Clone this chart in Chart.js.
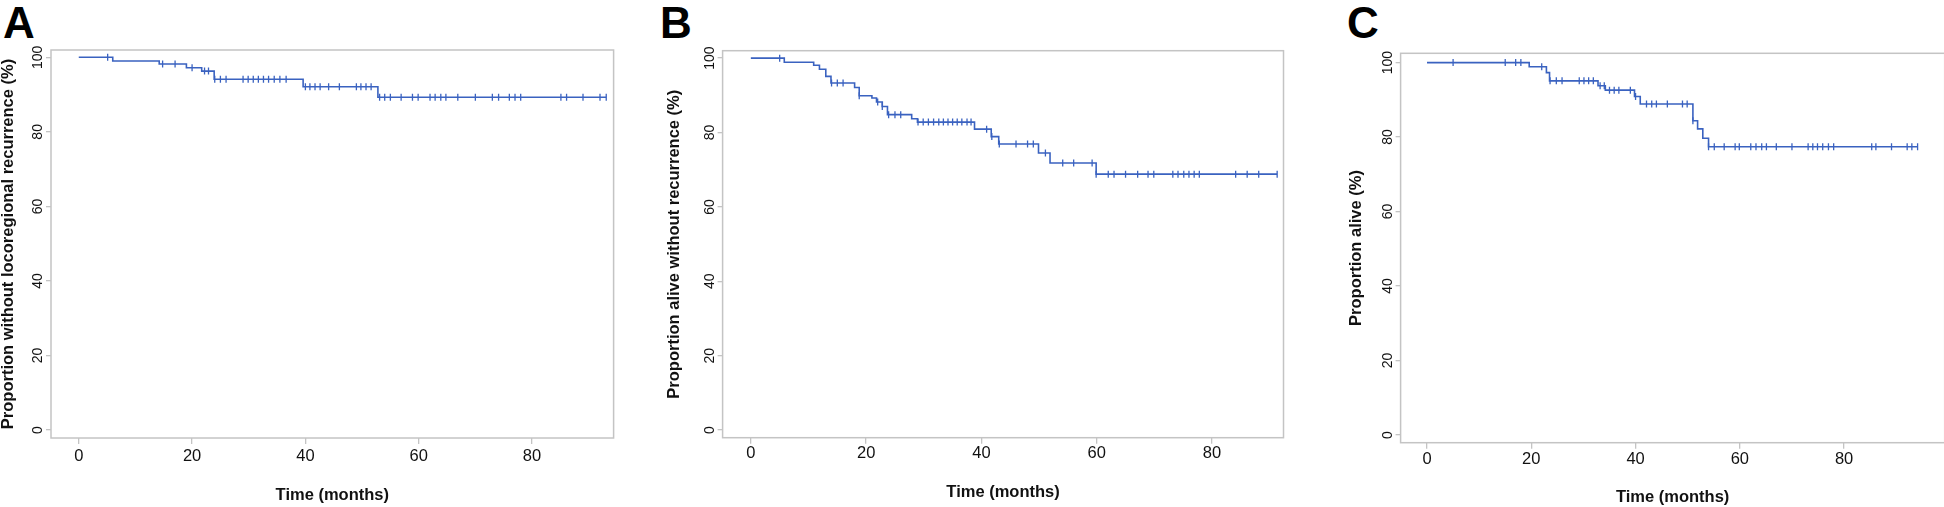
<!DOCTYPE html>
<html>
<head>
<meta charset="utf-8">
<script src="https://cdn.jsdelivr.net/npm/chart.js@4"></script>
<style>
  body { margin: 0; background: #fff; overflow: hidden; width: 1944px; height: 507px; position: relative; }
  .box { position: absolute; top: 0; height: 507px; }
  .tag { position: absolute; top: 1px; font: bold 44px "Liberation Sans", Arial, sans-serif; line-height: 44px; color: #000; }
</style>
</head>
<body>
<div class="tag" style="left:3px">A</div>
<div class="tag" style="left:660px">B</div>
<div class="tag" style="left:1347px">C</div>
<div class="box" style="left:0px;width:625px"><canvas id="graphA"></canvas></div>
<div class="box" style="left:640px;width:660px"><canvas id="graphB"></canvas></div>
<div class="box" style="left:1300px;width:650px"><canvas id="graphC"></canvas></div>
<script>
// tick labels
const xTicks = [0, 20, 40, 60, 80];
const yTicks = [0, 20, 40, 60, 80, 100];

// A - locoregional recurrence
const timesA = [0, 6.0, 14.2, 19.0, 21.7, 23.9, 39.6, 52.8];
const survA = [100, 99.0, 98.2, 97.2, 96.3, 94.1, 92.1, 89.3];
const censA = [5.1, 14.8, 17.0, 20.0, 22.2, 22.9, 24.0, 25.0, 26.0, 29.0, 29.9, 30.8, 31.7, 32.6, 33.5, 34.5, 35.5, 36.6,
  40.0, 40.8, 41.7, 42.6, 44.1, 46.0, 49.0, 49.8, 50.7, 51.6, 53.1, 54.0, 55.0, 56.9, 58.9, 59.9, 62.0, 62.9, 63.9, 64.8,
  66.9, 70.0, 73.0, 74.1, 76.0, 77.0, 78.0, 85.1, 86.1, 89.0, 92.0, 93.1];

// B - alive without recurrence
const timesB = [0, 5.8, 10.9, 11.9, 13.0, 13.9, 18.0, 18.8, 21.0, 21.8, 22.8, 23.7, 27.9, 28.9, 38.8, 41.7, 43.0, 49.9, 51.9, 59.9];
const survB = [100, 98.9, 98.1, 97.0, 95.1, 93.3, 92.1, 89.9, 89.3, 88.2, 87.0, 84.8, 83.7, 82.8, 80.9, 78.9, 76.9, 74.5, 71.8, 68.8];
const censB = [5.0, 14.0, 15.0, 16.0, 18.8, 22.0, 22.8, 23.9, 25.0, 26.0, 29.0, 29.9, 30.8, 31.7, 32.6, 33.4, 34.2, 35.0, 35.8,
  36.6, 37.5, 38.2, 40.9, 41.8, 43.1, 46.0, 48.0, 49.0, 51.1, 54.1, 56.0, 59.2, 59.9, 62.0, 63.0, 65.0, 67.1, 68.9, 69.9,
  73.2, 74.1, 75.1, 76.0, 76.9, 77.8, 84.1, 86.1, 88.1, 91.3];

// C - alive
const timesC = [0, 19.6, 22.9, 23.5, 32.8, 34.2, 39.8, 40.9, 51.0, 51.9, 52.9, 54.0];
const survC = [100, 98.9, 97.3, 95.1, 93.8, 92.6, 90.9, 88.9, 84.4, 82.2, 79.7, 77.4];
const censC = [5.0, 15.0, 17.0, 18.0, 22.0, 23.6, 24.8, 25.9, 29.2, 30.1, 31.0, 31.9, 33.2, 34.0, 35.0, 35.9, 36.8, 39.0, 40.0,
  42.1, 43.1, 44.0, 46.1, 49.0, 49.9, 51.0, 54.0, 55.1, 57.0, 59.1, 59.9, 62.1, 63.1, 64.2, 65.1, 67.0, 70.0, 73.1, 74.0,
  74.9, 75.9, 77.0, 78.0, 85.3, 86.1, 89.1, 92.1, 93.0, 94.1];

const blue = '#3a62c0';
const frameGray = '#c4c4c4';
const fam = '"Liberation Sans", Arial, Helvetica, sans-serif';

// KM level at time t
function levelAt(times, surv, t) {
  let s = surv[0];
  for (let i = 0; i < times.length; i++) { if (t >= times[i]) s = surv[i]; }
  return s;
}

const framePlugin = {
  id: 'frame',
  afterDraw(chart, args, opts) {
    const ctx = chart.ctx, a = chart.chartArea, y = chart.scales.y;
    ctx.save();
    ctx.strokeStyle = frameGray;
    ctx.lineWidth = 1.5;
    ctx.strokeRect(a.left, a.top, a.right - a.left, a.bottom - a.top);
    ctx.fillStyle = '#111';
    ctx.font = '14px ' + fam;
    ctx.textAlign = 'center';
    ctx.textBaseline = 'middle';
    yTicks.forEach(v => {
      ctx.save();
      ctx.translate(a.left - opts.gap, y.getPixelForValue(v));
      ctx.rotate(-Math.PI / 2);
      ctx.fillText(String(v), 0, 0);
      ctx.restore();
    });
    ctx.restore();
  }
};

function makePanel(id, times, surv, cens, o) {
  let curve = times.map((t, i) => ({x: t, y: surv[i]}));
  curve.push({x: cens[cens.length - 1], y: surv[surv.length - 1]});
  let marks = cens.map(t => ({x: t, y: levelAt(times, surv, t)}));

  new Chart(document.getElementById(id), {
    type: 'scatter',
    data: {
      datasets: [{
        data: curve,
        showLine: true,
        stepped: true,
        borderColor: blue,
        borderWidth: 1.6,
        pointRadius: 0
      }, {
        data: marks,
        showLine: false,
        pointStyle: 'line',
        rotation: 90,
        pointRadius: 3.5,
        borderColor: blue,
        borderWidth: 1.3
      }]
    },
    options: {
      responsive: true,
      maintainAspectRatio: false,
      devicePixelRatio: 1,
      animation: false,
      layout: { padding: { top: o.padTop, right: o.padRight, left: 0, bottom: 0 } },
      plugins: { legend: { display: false }, tooltip: { enabled: false }, frame: { gap: o.gap } },
      scales: {
        x: {
          min: o.xMin, max: o.xMax,
          afterBuildTicks: s => { s.ticks = xTicks.map(v => ({value: v})); },
          afterFit: s => { s.height = o.xHeight; },
          grid: { drawOnChartArea: false, drawTicks: true, tickLength: 6, color: frameGray, lineWidth: 1.3 },
          border: { display: false },
          ticks: { color: '#111', padding: o.xTickPad, font: { family: fam, size: 16.5, lineHeight: 1 } },
          title: { display: true, text: 'Time (months)', color: '#111', padding: { top: 0, bottom: o.xTitlePad },
            font: { family: fam, size: 16.5, weight: 'bold', lineHeight: 1 } }
        },
        y: {
          min: o.yMin, max: o.yMax,
          afterBuildTicks: s => { s.ticks = yTicks.map(v => ({value: v})); },
          afterFit: s => { s.width = o.yWidth; },
          grid: { drawOnChartArea: false, drawTicks: true, tickLength: 5, color: frameGray, lineWidth: 1.3 },
          border: { display: false },
          ticks: { display: false },
          title: { display: true, text: o.yTitle, color: '#111', padding: { top: o.yTitlePad, bottom: 0 },
            font: { family: fam, size: 16.5, weight: 'bold', lineHeight: 1 } }
        }
      }
    },
    plugins: [framePlugin]
  });
}

makePanel('graphA', timesA, survA, censA, {
  yTitle: 'Proportion without locoregional recurrence (%)',
  xMin: -4.9, xMax: 94.4, yMin: -2.15, yMax: 101.96,
  yWidth: 51, padTop: 50, padRight: 11.4, xHeight: 69,
  yTitlePad: 0, xTitlePad: 3.75, xTickPad: 4.25, gap: 13
});
makePanel('graphB', timesB, survB, censB, {
  yTitle: 'Proportion alive without recurrence (%)',
  xMin: -4.9, xMax: 92.4, yMin: -2.07, yMax: 102.0,
  yWidth: 82.6, padTop: 50.7, padRight: 16.5, xHeight: 69.3,
  yTitlePad: 25.75, xTitlePad: 6, xTickPad: 1.35, gap: 12
});
makePanel('graphC', timesC, survC, censC, {
  yTitle: 'Proportion alive (%)',
  xMin: -5.07, xMax: 99.3, yMin: -2.07, yMax: 102.5,
  yWidth: 100.6, padTop: 53.3, padRight: 0, xHeight: 64.3,
  yTitlePad: 47.75, xTitlePad: 1.75, xTickPad: 2.25, gap: 12.8
});
</script>
</body>
</html>
